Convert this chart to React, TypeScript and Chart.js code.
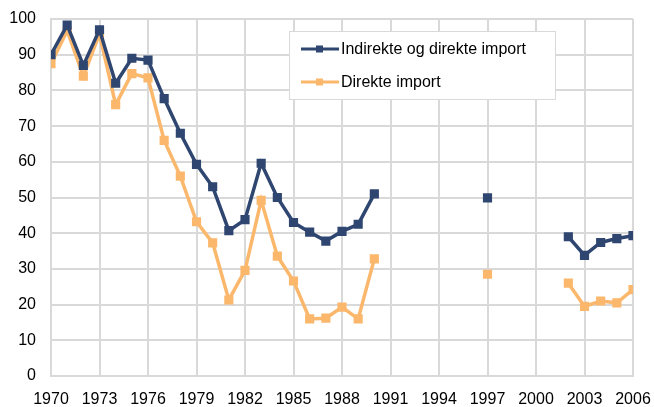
import React, { useEffect, useRef } from "react";
import { Chart, registerables } from "chart.js";

Chart.register(...registerables);

const years = [1970, 1971, 1972, 1973, 1974, 1975, 1976, 1977, 1978, 1979, 1980, 1981, 1982, 1983, 1984, 1985, 1986, 1987, 1988, 1989, 1990, 1991, 1992, 1993, 1994, 1995, 1996, 1997, 1998, 1999, 2000, 2001, 2002, 2003, 2004, 2005, 2006];

const indirekteOgDirekte: (number | null)[] = [90, 98.3, 87, 97, 82, 89, 88.5, 77.7, 68, 59.3, 53, 40.7, 43.8, 59.6, 50, 43, 40.3, 37.8, 40.5, 42.5, 51, null, null, null, null, null, null, 49.9, null, null, null, null, 39, 33.8, 37.4, 38.5, 39.3];

const direkte: (number | null)[] = [87.5, 96.7, 84, 95.8, 76, 84.7, 83.5, 66, 56, 43.2, 37.3, 21.3, 29.6, 49.2, 33.6, 26.6, 16, 16.2, 19.3, 16, 32.8, null, null, null, null, null, null, 28.5, null, null, null, null, 26, 19.5, 21, 20.5, 24.2];

const seriesLabels = ["Indirekte og direkte import", "Direkte import"];
const seriesColors = ["#2f4670", "#fbb86c"];

const FONT = "'Liberation Sans', Arial, sans-serif";

const legendPlugin = {
  id: "insetLegend",
  afterDraw(chart: any) {
    const ctx = chart.ctx;
    const ca = chart.chartArea;
    const x0 = ca.left + 238;
    const y0 = ca.top + 12;
    const w = 266;
    const h = 68;
    ctx.save();
    ctx.fillStyle = "#ffffff";
    ctx.fillRect(x0, y0, w, h);
    ctx.strokeStyle = "#d9d9d9";
    ctx.lineWidth = 1;
    ctx.strokeRect(x0 + 0.5, y0 + 0.5, w, h);
    ctx.font = "16px " + FONT;
    ctx.textBaseline = "middle";
    chart.data.datasets.forEach((ds: any, i: number) => {
      const cy = y0 + 18 + i * 33;
      ctx.strokeStyle = ds.borderColor;
      ctx.lineWidth = 3;
      ctx.beginPath();
      ctx.moveTo(x0 + 12, cy);
      ctx.lineTo(x0 + 50, cy);
      ctx.stroke();
      ctx.fillStyle = ds.borderColor;
      ctx.fillRect(x0 + 27, cy - 3.5, 7, 7);
      ctx.fillStyle = "#000000";
      ctx.fillText(ds.label, x0 + 52, cy + 1);
    });
    ctx.restore();
  },
};

export default function App() {
  const ref = useRef<HTMLCanvasElement | null>(null);
  useEffect(() => {
    if (!ref.current) return;
    const makeData = (vals: (number | null)[]) => years.map((y, i) => ({ x: y, y: vals[i] }));
    const chart = new Chart(ref.current, {
      type: "line",
      data: {
        datasets: [
          {
            label: seriesLabels[0],
            data: makeData(indirekteOgDirekte) as any,
            borderColor: seriesColors[0],
            backgroundColor: seriesColors[0],
            borderWidth: 3.5,
            pointStyle: "rect",
            pointRadius: 4,
            pointHoverRadius: 4,
            spanGaps: false,
            tension: 0,
          },
          {
            label: seriesLabels[1],
            data: makeData(direkte) as any,
            borderColor: seriesColors[1],
            backgroundColor: seriesColors[1],
            borderWidth: 3.5,
            pointStyle: "rect",
            pointRadius: 4,
            pointHoverRadius: 4,
            spanGaps: false,
            tension: 0,
          },
        ],
      },
      options: {
        animation: false,
        responsive: false,
        maintainAspectRatio: false,
        layout: { padding: { left: 0, right: 21, top: 19, bottom: 0 } },
        plugins: {
          legend: { display: false },
          tooltip: { enabled: false },
        },
        scales: {
          x: {
            type: "linear",
            min: 1970,
            max: 2006,
            ticks: {
              stepSize: 3,
              autoSkip: false,
              maxRotation: 0,
              color: "#000000",
              font: { family: FONT, size: 16 },
              padding: 14,
              callback: (v: any) => String(v),
            },
            grid: { color: "#d9d9d9", lineWidth: 2, drawTicks: false },
            border: { color: "#d9d9d9", width: 2 },
            afterFit: (s: any) => {
              s.height = 31;
              s.paddingLeft = 0;
              s.paddingRight = 0;
            },
          },
          y: {
            min: 0,
            max: 100,
            ticks: {
              stepSize: 10,
              color: "#000000",
              font: { family: FONT, size: 16 },
              padding: 15,
            },
            grid: { color: "#d9d9d9", lineWidth: 2, drawTicks: false },
            border: { color: "#d9d9d9", width: 2 },
            afterFit: (s: any) => {
              s.width = 51;
              s.paddingTop = 0;
              s.paddingBottom = 0;
            },
          },
        },
      },
      plugins: [legendPlugin],
    });
    return () => chart.destroy();
  }, []);
  return (
    <div style={{ position: "absolute", left: 0, top: 0, width: 654, height: 407, background: "#fff" }}>
      <canvas ref={ref} width={654} height={407} style={{ width: 654, height: 407 }} />
    </div>
  );
}
